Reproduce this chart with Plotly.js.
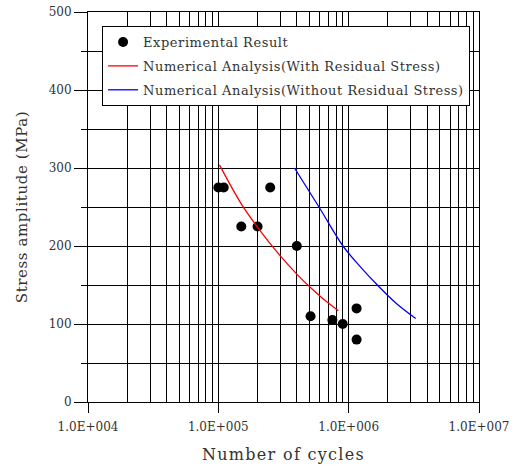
<!DOCTYPE html>
<html>
<head>
<meta charset="utf-8">
<script src="https://cdn.plot.ly/plotly-3.0.1.min.js"></script>
<style>
html,body{margin:0;padding:0;background:#fff;}
#chart{width:516px;height:470px;}
.legendtext{letter-spacing:0.55px;}
.xtitle{letter-spacing:1.3px;}
.ytitle{letter-spacing:0.6px;}
</style>
</head>
<body>
<div id="chart"></div>
<script>
// Experimental results
const expCycles = [1.0e5, 1.1e5, 2.5e5, 1.5e5, 2.0e5, 4.0e5, 5.1e5, 7.5e5, 9.0e5, 1.15e6, 1.15e6];
const expStress = [275, 275, 275, 225, 225, 200, 110, 105, 100, 120, 80];

// Numerical analysis with residual stress (red)
const withCycles = [1.02e5, 1.5e5, 2.0e5, 3.0e5, 4.0e5, 5.0e5, 6.5e5, 8.34e5];
const withStress = [304, 254, 224, 187, 164, 148, 131, 117];

// Numerical analysis without residual stress (blue)
const withoutCycles = [3.84e5, 5.92e5, 9.04e5, 1.25e6, 1.66e6, 2.3e6, 3.27e6];
const withoutStress = [300, 250, 200, 172, 150, 127, 107];

// Axis ticks
const xTickVals = [1e4, 1e5, 1e6, 1e7];
const xTickText = ['1.0E+004', '1.0E+005', '1.0E+006', '1.0E+007'];
const xMinorVals = [];
[1e4, 1e5, 1e6].forEach(d => { for (let k = 2; k <= 9; k++) xMinorVals.push(k * d); });

const FONT = 'DejaVu Serif, Liberation Serif, serif';

const traces = [
  {
    x: expCycles, y: expStress, type: 'scatter', mode: 'markers',
    name: 'Experimental Result', legendgroup: 'a',
    marker: {color: '#000', size: 10, line: {width: 0}}
  },
  {
    x: withCycles, y: withStress, type: 'scatter', mode: 'lines',
    name: 'Numerical Analysis(With Residual Stress)', legendgroup: 'b',
    line: {color: '#ff0000', width: 1.3, shape: 'spline'}
  },
  {
    x: withoutCycles, y: withoutStress, type: 'scatter', mode: 'lines',
    name: 'Numerical Analysis(Without Residual Stress)', legendgroup: 'c',
    line: {color: '#0000ff', width: 1.3, shape: 'spline'}
  }
];

const layout = {
  width: 516, height: 470,
  margin: {l: 88, r: 37, t: 12, b: 68},
  paper_bgcolor: '#fff', plot_bgcolor: '#fff',
  font: {family: FONT, color: '#333', size: 12},
  showlegend: true,
  legend: {
    x: 0.036, y: 0.964, xanchor: 'left', yanchor: 'top',
    bgcolor: '#fff', bordercolor: '#000', borderwidth: 1,
    traceorder: 'grouped', tracegroupgap: 4,
    font: {family: FONT, size: 13, color: '#333'}
  },
  xaxis: {
    type: 'log', range: [4, 7],
    tickmode: 'array', tickvals: xTickVals, ticktext: xTickText,
    ticks: 'outside', ticklen: 10, tickcolor: '#000', tickwidth: 1,
    ticklabelstandoff: 4,
    showgrid: true, gridcolor: '#000', gridwidth: 1,
    minor: {tickmode: 'array', tickvals: xMinorVals, showgrid: true, gridcolor: '#000', gridwidth: 1, ticks: ''},
    showline: true, linecolor: '#000', linewidth: 1, mirror: true,
    zeroline: false,
    tickfont: {family: FONT, size: 12, color: '#333'},
    title: {text: 'Number of cycles', font: {family: FONT, size: 16, color: '#333'}, standoff: 15}
  },
  yaxis: {
    range: [0, 500], dtick: 100, tick0: 0,
    ticks: 'outside', ticklen: 13, tickcolor: '#000', tickwidth: 1,
    showgrid: true, gridcolor: '#000', gridwidth: 1,
    minor: {dtick: 50, showgrid: true, gridcolor: '#000', gridwidth: 1, ticks: 'outside', ticklen: 6, tickcolor: '#000'},
    showline: true, linecolor: '#000', linewidth: 1, mirror: true,
    zeroline: false,
    tickfont: {family: FONT, size: 12, color: '#333'},
    title: {text: 'Stress amplitude (MPa)', font: {family: FONT, size: 15, color: '#333'}, standoff: 17}
  }
};

Plotly.newPlot('chart', traces, layout, {displayModeBar: false, staticPlot: true});
</script>
</body>
</html>
